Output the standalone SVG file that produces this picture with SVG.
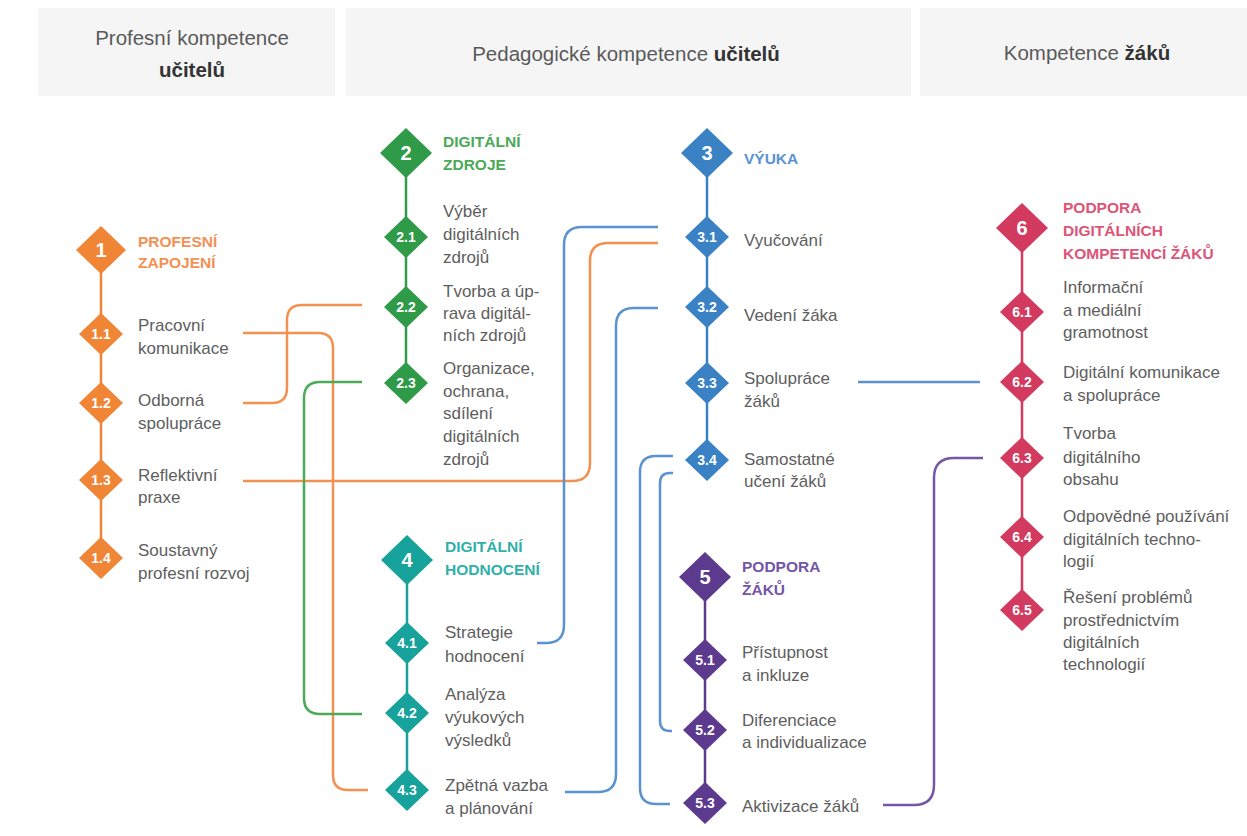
<svg xmlns="http://www.w3.org/2000/svg" width="1247" height="836" viewBox="0 0 1247 836">
<style>
.hb{fill:#f5f5f5}
.ht{font-family:"Liberation Sans",Arial,sans-serif;font-size:20.5px;fill:#5a5a5a}
.hbold{font-weight:bold;fill:#333}
.lbl{font-family:"Liberation Sans",Arial,sans-serif;font-size:17px;fill:#5e5e5e}
.ttl{font-family:"Liberation Sans",Arial,sans-serif;font-size:15.5px;font-weight:bold}
.num{font-family:"Liberation Sans",Arial,sans-serif;font-weight:bold;fill:#fff;text-anchor:middle}
.big{font-size:20px}
.sm{font-size:14px}
.con{fill:none;stroke-width:2.5}
.or{stroke:#f39150}.gr{stroke:#4caa58}.bl{stroke:#5a93cf}.pu{stroke:#7656a6}
.spine{stroke-width:2.5}
</style>
<rect width="1247" height="836" fill="#fff"/>
<g id="headers">
<rect class="hb" x="38" y="8" width="297" height="88"/>
<rect class="hb" x="346" y="8" width="565" height="88"/>
<rect class="hb" x="920" y="8" width="327" height="88"/>
<text class="ht" x="192" y="45" text-anchor="middle">Profesní kompetence</text>
<text class="ht hbold" x="192" y="77" text-anchor="middle">učitelů</text>
<text class="ht" x="626" y="61" text-anchor="middle">Pedagogické kompetence <tspan class="hbold">učitelů</tspan></text>
<text class="ht" x="1087" y="60" text-anchor="middle">Kompetence <tspan class="hbold">žáků</tspan></text>
</g>
<g id="connectors">
<path class="con or" d="M243,333 H318 Q333,333 333,348 V775 Q333,790 348,790 H368"/>
<path class="con or" d="M243,403 H272 Q287,403 287,388 V320 Q287,305 302,305 H362"/>
<path class="con or" d="M243,481 H572 Q590,481 590,463 V261 Q590,243 608,243 H658"/>
<path class="con gr" d="M362,382 H320 Q304,382 304,398 V698 Q304,714 320,714 H362"/>
<path class="con bl" d="M658,227 H582 Q564,227 564,245 V625 Q564,643 546,643 H537"/>
<path class="con bl" d="M658,308 H634 Q616,308 616,326 V774 Q616,792 598,792 H565"/>
<path class="con bl" d="M673,456 H656 Q640,456 640,472 V788 Q640,804 656,804 H670"/>
<path class="con bl" d="M673,473 H670 Q660,473 660,483 V721 Q660,731 670,731 H672"/>
<path class="con bl" d="M858,382 H980"/>
<path class="con pu" d="M883,805 H914 Q934,805 934,785 V478 Q934,458 954,458 H983"/>
</g>
<g id="area1">
<line class="spine" x1="101" y1="250" x2="101" y2="558" stroke="#ef8535"/>
<g id="n1"><path d="M101,226 L126,250 L101,274 L76,250 Z" fill="#ef8535"/><text class="num big" x="101" y="257">1</text>
<text class="ttl" x="138" y="247" fill="#f39154">PROFESNÍ</text><text class="ttl" x="138" y="268" fill="#f39154">ZAPOJENÍ</text></g>
<g id="n1-1"><path d="M101,313 L123,334 L101,355 L79,334 Z" fill="#ef8535"/><text class="num sm" x="101" y="339">1.1</text>
<text class="lbl" x="138" y="331">Pracovní</text><text class="lbl" x="138" y="354">komunikace</text></g>
<g id="n1-2"><path d="M101,382 L123,403 L101,424 L79,403 Z" fill="#ef8535"/><text class="num sm" x="101" y="408">1.2</text>
<text class="lbl" x="138" y="406">Odborná</text><text class="lbl" x="138" y="429">spolupráce</text></g>
<g id="n1-3"><path d="M101,459 L123,480 L101,501 L79,480 Z" fill="#ef8535"/><text class="num sm" x="101" y="485">1.3</text>
<text class="lbl" x="138" y="481">Reflektivní</text><text class="lbl" x="138" y="503">praxe</text></g>
<g id="n1-4"><path d="M101,537 L123,558 L101,579 L79,558 Z" fill="#ef8535"/><text class="num sm" x="101" y="563">1.4</text>
<text class="lbl" x="138" y="556">Soustavný</text><text class="lbl" x="138" y="579">profesní rozvoj</text></g>
</g>
<g id="area2">
<line class="spine" x1="406" y1="153" x2="406" y2="383" stroke="#2f9a48"/>
<g id="n2"><path d="M406,128 L432,153 L406,178 L380,153 Z" fill="#2f9a48"/><text class="num big" x="406" y="160">2</text>
<text class="ttl" x="443" y="147" fill="#4aaa58">DIGITÁLNÍ</text><text class="ttl" x="443" y="170" fill="#4aaa58">ZDROJE</text></g>
<g id="n2-1"><path d="M406,216 L428,237 L406,258 L384,237 Z" fill="#2f9a48"/><text class="num sm" x="406" y="242">2.1</text>
<text class="lbl" x="443" y="217">Výběr</text><text class="lbl" x="443" y="240">digitálních</text><text class="lbl" x="443" y="263">zdrojů</text></g>
<g id="n2-2"><path d="M406,286 L428,307 L406,328 L384,307 Z" fill="#2f9a48"/><text class="num sm" x="406" y="312">2.2</text>
<text class="lbl" x="443" y="297">Tvorba a úp-</text><text class="lbl" x="443" y="319">rava digitál-</text><text class="lbl" x="443" y="341">ních zdrojů</text></g>
<g id="n2-3"><path d="M406,362 L428,383 L406,404 L384,383 Z" fill="#2f9a48"/><text class="num sm" x="406" y="388">2.3</text>
<text class="lbl" x="443" y="374">Organizace,</text><text class="lbl" x="443" y="397">ochrana,</text><text class="lbl" x="443" y="419">sdílení</text><text class="lbl" x="443" y="442">digitálních</text><text class="lbl" x="443" y="465">zdrojů</text></g>
</g>
<g id="area4">
<line class="spine" x1="407" y1="560" x2="407" y2="790" stroke="#17a29c"/>
<g id="n4"><path d="M407,535 L433,560 L407,585 L381,560 Z" fill="#17a29c"/><text class="num big" x="407" y="567">4</text>
<text class="ttl" x="445" y="552" fill="#2fb0a9">DIGITÁLNÍ</text><text class="ttl" x="445" y="575" fill="#2fb0a9">HODNOCENÍ</text></g>
<g id="n4-1"><path d="M407,622 L429,643 L407,664 L385,643 Z" fill="#17a29c"/><text class="num sm" x="407" y="648">4.1</text>
<text class="lbl" x="445" y="638">Strategie</text><text class="lbl" x="445" y="662">hodnocení</text></g>
<g id="n4-2"><path d="M407,692 L429,713 L407,734 L385,713 Z" fill="#17a29c"/><text class="num sm" x="407" y="718">4.2</text>
<text class="lbl" x="445" y="700">Analýza</text><text class="lbl" x="445" y="723">výukových</text><text class="lbl" x="445" y="746">výsledků</text></g>
<g id="n4-3"><path d="M407,769 L429,790 L407,811 L385,790 Z" fill="#17a29c"/><text class="num sm" x="407" y="795">4.3</text>
<text class="lbl" x="445" y="791">Zpětná vazba</text><text class="lbl" x="445" y="814">a plánování</text></g>
</g>
<g id="area3">
<line class="spine" x1="707" y1="153" x2="707" y2="460" stroke="#3b82c4"/>
<g id="n3"><path d="M707,128 L733,153 L707,178 L681,153 Z" fill="#3b82c4"/><text class="num big" x="707" y="160">3</text>
<text class="ttl" x="744" y="164" fill="#5a93d2">VÝUKA</text></g>
<g id="n3-1"><path d="M707,216 L729,237 L707,258 L685,237 Z" fill="#3b82c4"/><text class="num sm" x="707" y="242">3.1</text>
<text class="lbl" x="744" y="246">Vyučování</text></g>
<g id="n3-2"><path d="M707,286 L729,307 L707,328 L685,307 Z" fill="#3b82c4"/><text class="num sm" x="707" y="312">3.2</text>
<text class="lbl" x="744" y="321">Vedení žáka</text></g>
<g id="n3-3"><path d="M707,362 L729,383 L707,404 L685,383 Z" fill="#3b82c4"/><text class="num sm" x="707" y="388">3.3</text>
<text class="lbl" x="744" y="384">Spolupráce</text><text class="lbl" x="744" y="407">žáků</text></g>
<g id="n3-4"><path d="M707,439 L729,460 L707,481 L685,460 Z" fill="#3b82c4"/><text class="num sm" x="707" y="465">3.4</text>
<text class="lbl" x="744" y="465">Samostatné</text><text class="lbl" x="744" y="487">učení žáků</text></g>
</g>
<g id="area5">
<line class="spine" x1="705" y1="577" x2="705" y2="803" stroke="#5c3b8e"/>
<g id="n5"><path d="M705,552 L731,577 L705,602 L679,577 Z" fill="#5c3b8e"/><text class="num big" x="705" y="584">5</text>
<text class="ttl" x="742" y="572" fill="#7455a6">PODPORA</text><text class="ttl" x="742" y="595" fill="#7455a6">ŽÁKŮ</text></g>
<g id="n5-1"><path d="M705,639 L727,660 L705,681 L683,660 Z" fill="#5c3b8e"/><text class="num sm" x="705" y="665">5.1</text>
<text class="lbl" x="742" y="658">Přístupnost</text><text class="lbl" x="742" y="681">a inkluze</text></g>
<g id="n5-2"><path d="M705,709 L727,730 L705,751 L683,730 Z" fill="#5c3b8e"/><text class="num sm" x="705" y="735">5.2</text>
<text class="lbl" x="742" y="726">Diferenciace</text><text class="lbl" x="742" y="748">a individualizace</text></g>
<g id="n5-3"><path d="M705,782 L727,803 L705,824 L683,803 Z" fill="#5c3b8e"/><text class="num sm" x="705" y="808">5.3</text>
<text class="lbl" x="742" y="812">Aktivizace žáků</text></g>
</g>
<g id="area6">
<line class="spine" x1="1022" y1="228" x2="1022" y2="610" stroke="#d23a5f"/>
<g id="n6"><path d="M1022,203 L1048,228 L1022,253 L996,228 Z" fill="#d23a5f"/><text class="num big" x="1022" y="235">6</text>
<text class="ttl" x="1063" y="213" fill="#dc5577">PODPORA</text><text class="ttl" x="1063" y="236" fill="#dc5577">DIGITÁLNÍCH</text><text class="ttl" x="1063" y="259" fill="#dc5577">KOMPETENCÍ ŽÁKŮ</text></g>
<g id="n6-1"><path d="M1022,291 L1044,312 L1022,333 L1000,312 Z" fill="#d23a5f"/><text class="num sm" x="1022" y="317">6.1</text>
<text class="lbl" x="1063" y="293">Informační</text><text class="lbl" x="1063" y="316">a mediální</text><text class="lbl" x="1063" y="338">gramotnost</text></g>
<g id="n6-2"><path d="M1022,361 L1044,382 L1022,403 L1000,382 Z" fill="#d23a5f"/><text class="num sm" x="1022" y="387">6.2</text>
<text class="lbl" x="1063" y="378">Digitální komunikace</text><text class="lbl" x="1063" y="401">a spolupráce</text></g>
<g id="n6-3"><path d="M1022,437 L1044,458 L1022,479 L1000,458 Z" fill="#d23a5f"/><text class="num sm" x="1022" y="463">6.3</text>
<text class="lbl" x="1063" y="439">Tvorba</text><text class="lbl" x="1063" y="463">digitálního</text><text class="lbl" x="1063" y="485">obsahu</text></g>
<g id="n6-4"><path d="M1022,516 L1044,537 L1022,558 L1000,537 Z" fill="#d23a5f"/><text class="num sm" x="1022" y="542">6.4</text>
<text class="lbl" x="1063" y="522">Odpovědné používání</text><text class="lbl" x="1063" y="545">digitálních techno-</text><text class="lbl" x="1063" y="567">logií</text></g>
<g id="n6-5"><path d="M1022,589 L1044,610 L1022,631 L1000,610 Z" fill="#d23a5f"/><text class="num sm" x="1022" y="615">6.5</text>
<text class="lbl" x="1063" y="603">Řešení problémů</text><text class="lbl" x="1063" y="626">prostřednictvím</text><text class="lbl" x="1063" y="648">digitálních</text><text class="lbl" x="1063" y="670">technologií</text></g>
</g>
</svg>
